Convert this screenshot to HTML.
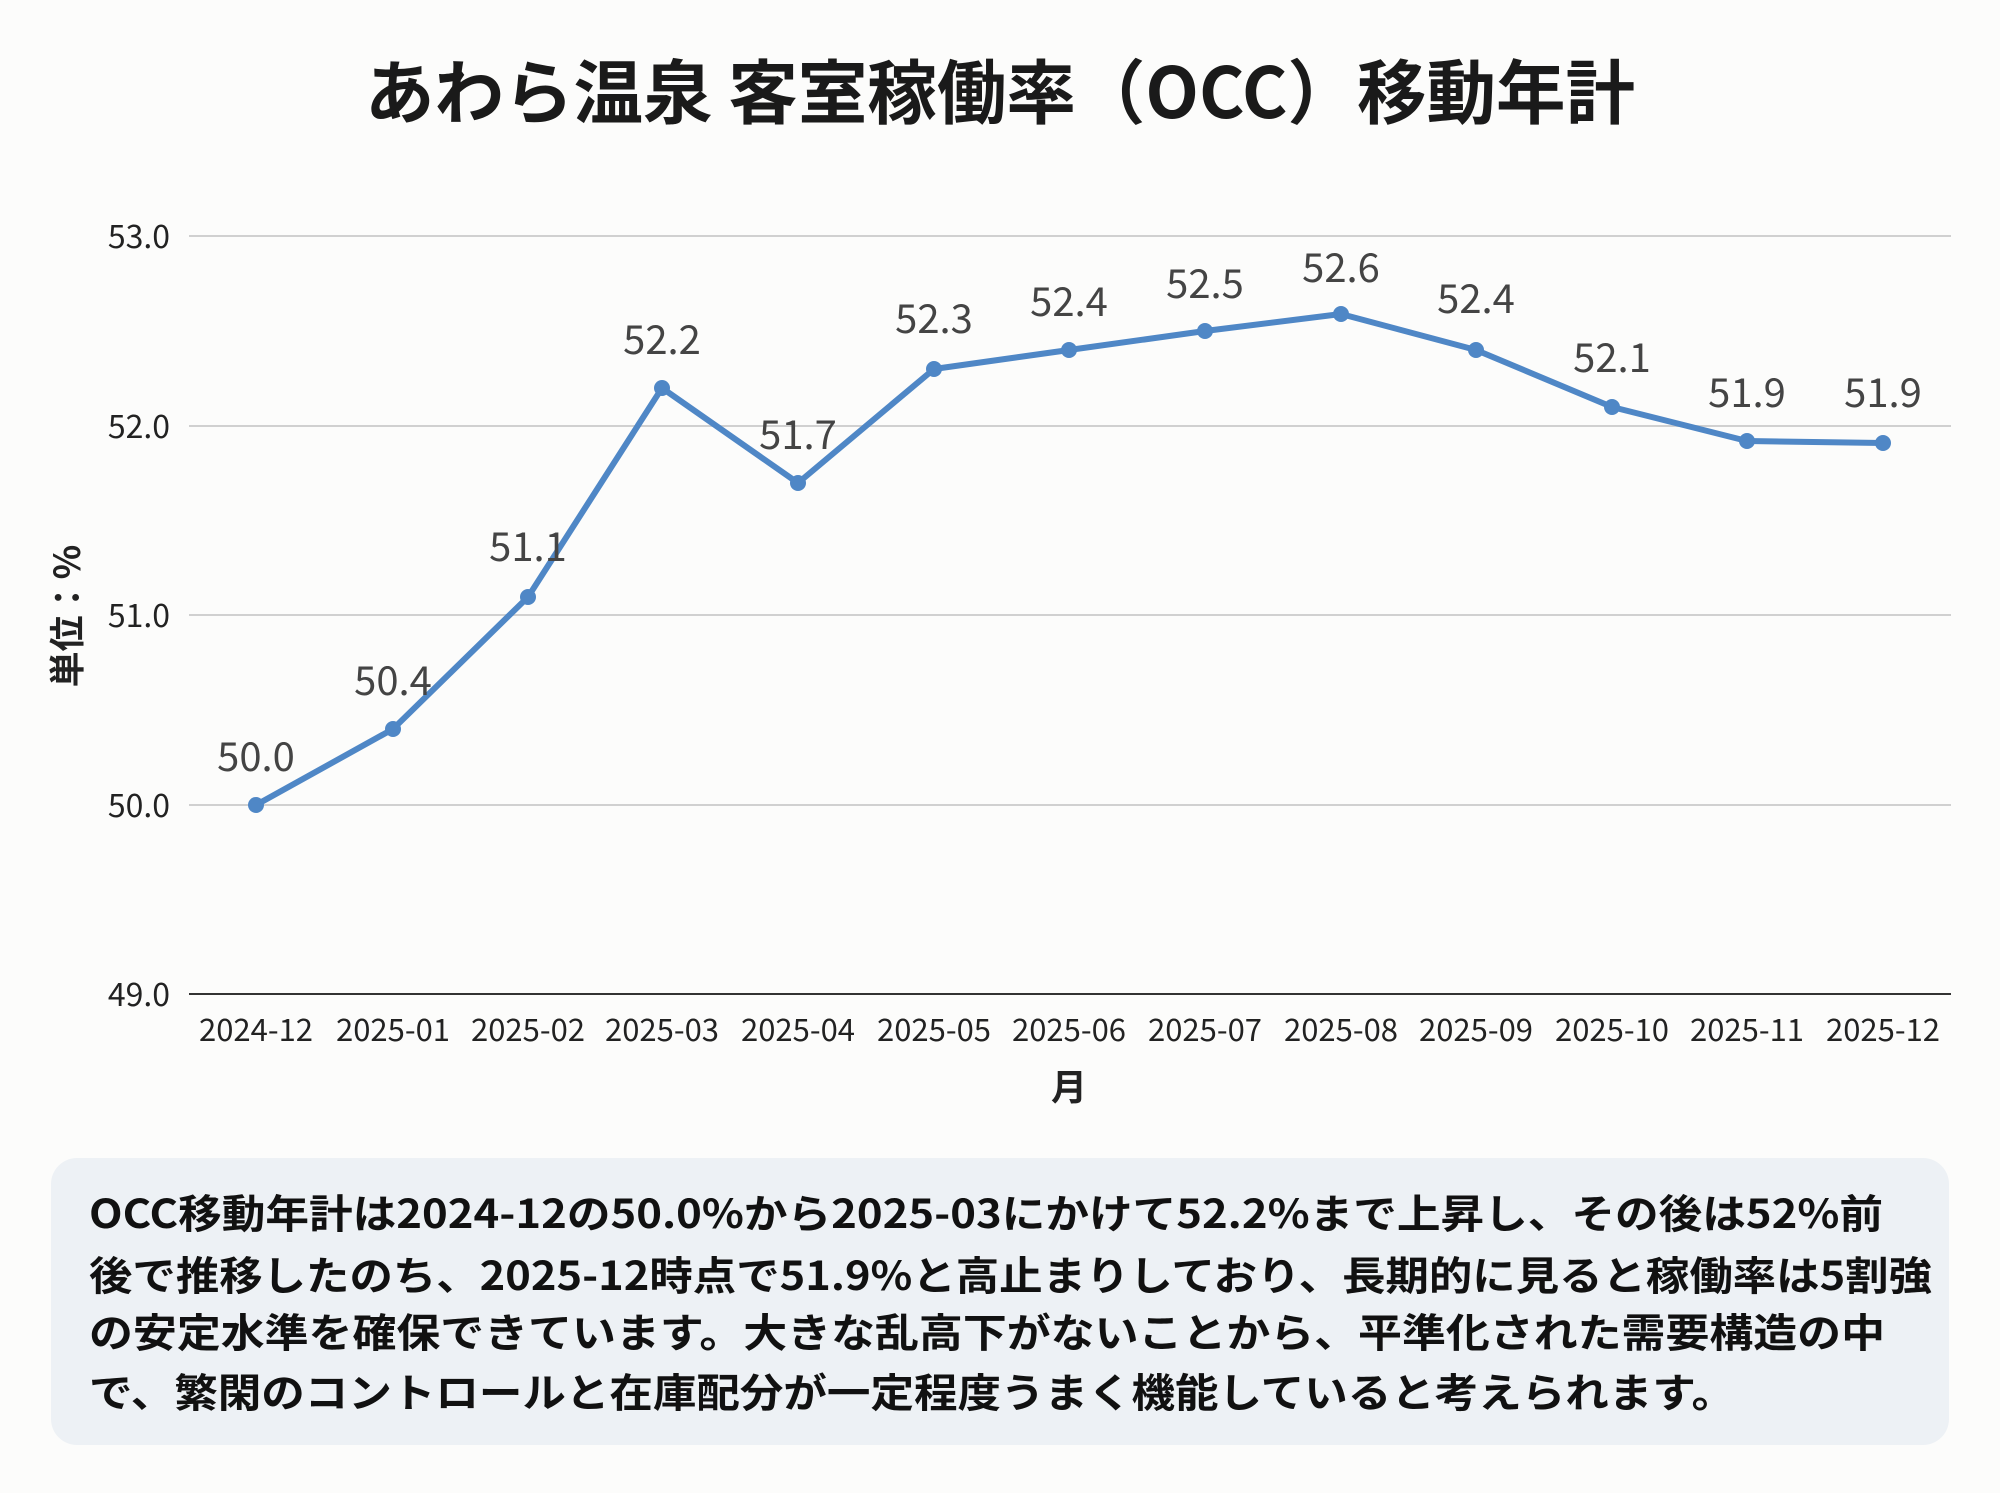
<!DOCTYPE html>
<html><head><meta charset="utf-8"><style>
html,body{margin:0;padding:0;background:#fcfcfb;}
svg{display:block;font-family:"Liberation Sans","Noto Sans CJK JP",sans-serif;}
.jp{font-family:"Noto Sans CJK JP","Liberation Sans",sans-serif;}
</style></head><body>
<svg width="2000" height="1493" viewBox="0 0 2000 1493" xmlns="http://www.w3.org/2000/svg">
<rect width="2000" height="1493" fill="#fcfcfb"/>
<text x="1000" y="118" text-anchor="middle" font-size="70" font-weight="bold" class="jp" fill="#1a1a1a" textLength="1270" lengthAdjust="spacingAndGlyphs">あわら温泉 客室稼働率（OCC）移動年計</text>
<g stroke="#d0d0d0" stroke-width="2">
<line x1="189" y1="236" x2="1951" y2="236"/>
<line x1="189" y1="426" x2="1951" y2="426"/>
<line x1="189" y1="615" x2="1951" y2="615"/>
<line x1="189" y1="805" x2="1951" y2="805"/>
</g>
<line x1="189" y1="994" x2="1951" y2="994" stroke="#333" stroke-width="2"/>
<g font-size="32" fill="#222" text-anchor="end" class="jp">
<text x="170" y="248">53.0</text>
<text x="170" y="438">52.0</text>
<text x="170" y="627">51.0</text>
<text x="170" y="817">50.0</text>
<text x="170" y="1006">49.0</text>
</g>
<g font-size="31" fill="#222" text-anchor="middle" class="jp">
<text x="256" y="1041">2024-12</text><text x="393" y="1041">2025-01</text><text x="528" y="1041">2025-02</text><text x="662" y="1041">2025-03</text><text x="798" y="1041">2025-04</text><text x="934" y="1041">2025-05</text><text x="1069" y="1041">2025-06</text><text x="1205" y="1041">2025-07</text><text x="1341" y="1041">2025-08</text><text x="1476" y="1041">2025-09</text><text x="1612" y="1041">2025-10</text><text x="1747" y="1041">2025-11</text><text x="1883" y="1041">2025-12</text>
</g>
<text x="1069" y="1100" text-anchor="middle" font-size="36" font-weight="bold" class="jp" fill="#222">月</text>
<text transform="translate(80,616) rotate(-90)" text-anchor="middle" font-size="36" font-weight="bold" class="jp" fill="#222">単位：%</text>
<polyline fill="none" stroke="#4f87c6" stroke-width="6" stroke-linejoin="round" points="256,805 393,729 528,597 662,388 798,483 934,369 1069,350 1205,331 1341,314 1476,350 1612,407 1747,441 1883,443"/>
<g fill="#4f87c6">
<circle cx="256" cy="805" r="8"/><circle cx="393" cy="729" r="8"/><circle cx="528" cy="597" r="8"/><circle cx="662" cy="388" r="8"/><circle cx="798" cy="483" r="8"/><circle cx="934" cy="369" r="8"/><circle cx="1069" cy="350" r="8"/><circle cx="1205" cy="331" r="8"/><circle cx="1341" cy="314" r="8"/><circle cx="1476" cy="350" r="8"/><circle cx="1612" cy="407" r="8"/><circle cx="1747" cy="441" r="8"/><circle cx="1883" cy="443" r="8"/>
</g>
<g font-size="40" fill="#444" text-anchor="middle" class="jp">
<text x="256" y="771">50.0</text><text x="393" y="695">50.4</text><text x="528" y="561">51.1</text><text x="662" y="354">52.2</text><text x="798" y="449">51.7</text><text x="934" y="333">52.3</text><text x="1069" y="316">52.4</text><text x="1205" y="298">52.5</text><text x="1341" y="282">52.6</text><text x="1476" y="313">52.4</text><text x="1612" y="372">52.1</text><text x="1747" y="407">51.9</text><text x="1883" y="407">51.9</text>
</g>
<rect x="51" y="1158" width="1898" height="287" rx="26" fill="#edf1f5"/>
<g font-size="40" fill="#111" class="jp" font-weight="bold">
<text x="89" y="1228" textLength="1794" lengthAdjust="spacingAndGlyphs">OCC移動年計は2024-12の50.0%から2025-03にかけて52.2%まで上昇し、その後は52%前</text>
<text x="89" y="1290" textLength="1843" lengthAdjust="spacingAndGlyphs">後で推移したのち、2025-12時点で51.9%と高止まりしており、長期的に見ると稼働率は5割強</text>
<text x="89" y="1347" textLength="1796" lengthAdjust="spacingAndGlyphs">の安定水準を確保できています。大きな乱高下がないことから、平準化された需要構造の中</text>
<text x="89" y="1407" textLength="1646" lengthAdjust="spacingAndGlyphs">で、繁閑のコントロールと在庫配分が一定程度うまく機能していると考えられます。</text>
</g>
</svg>
</body></html>
